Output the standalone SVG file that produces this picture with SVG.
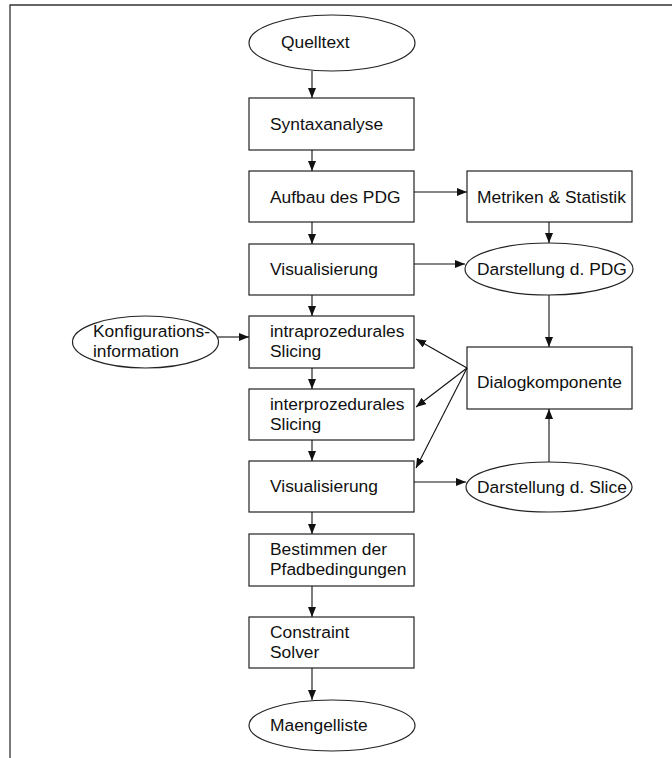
<svg xmlns="http://www.w3.org/2000/svg" width="672" height="758" viewBox="0 0 672 758">
<defs>
<marker id="ah" markerUnits="userSpaceOnUse" markerWidth="11" markerHeight="8" refX="10" refY="4" orient="auto">
<path d="M0,0 L10,4 L0,8 Z" fill="#111"/>
</marker>
<style>
.n{fill:#fff;stroke:#222;stroke-width:1.2}
.t{font-family:"Liberation Sans",Arial,sans-serif;font-size:17.4px;fill:#111}
.c line{stroke:#111;stroke-width:1.1;marker-end:url(#ah)}
.f{stroke:#333;stroke-width:1.3;fill:none}
</style>
</defs>
<path class="f" d="M672,5 H10 V758"/>
<g id="quelltext"><ellipse class="n" cx="332" cy="43" rx="83" ry="28"/><text class="t" x="281" y="48">Quelltext</text></g>
<g id="syntaxanalyse"><rect class="n" x="249" y="98" width="165" height="52"/><text class="t" x="270" y="130">Syntaxanalyse</text></g>
<g id="aufbau"><rect class="n" x="249" y="171" width="165" height="51"/><text class="t" x="270" y="203">Aufbau des PDG</text></g>
<g id="metriken"><rect class="n" x="467" y="171" width="165" height="51"/><text class="t" x="477" y="203">Metriken &amp; Statistik</text></g>
<g id="visualisierung1"><rect class="n" x="249" y="244" width="165" height="51"/><text class="t" x="270" y="275">Visualisierung</text></g>
<g id="darstellung-pdg"><ellipse class="n" cx="549" cy="269" rx="84" ry="26"/><text class="t" x="477" y="275">Darstellung d. PDG</text></g>
<g id="intra"><rect class="n" x="249" y="316" width="165" height="52"/><text class="t" x="270" y="337">intraprozedurales</text><text class="t" x="270" y="357">Slicing</text></g>
<g id="konfig"><ellipse class="n" cx="145.5" cy="342" rx="73" ry="26"/><text class="t" x="93" y="337">Konfigurations-</text><text class="t" x="93" y="357">information</text></g>
<g id="inter"><rect class="n" x="249" y="389" width="165" height="51"/><text class="t" x="270" y="410">interprozedurales</text><text class="t" x="270" y="430">Slicing</text></g>
<g id="dialog"><rect class="n" x="467" y="347" width="165" height="62"/><text class="t" x="477" y="388">Dialogkomponente</text></g>
<g id="visualisierung2"><rect class="n" x="249" y="461" width="165" height="51"/><text class="t" x="270" y="492">Visualisierung</text></g>
<g id="darstellung-slice"><ellipse class="n" cx="549" cy="487" rx="83" ry="25"/><text class="t" x="477" y="493">Darstellung d. Slice</text></g>
<g id="bestimmen"><rect class="n" x="249" y="534" width="165" height="52"/><text class="t" x="270" y="555">Bestimmen der</text><text class="t" x="270" y="575">Pfadbedingungen</text></g>
<g id="constraint"><rect class="n" x="249" y="617" width="165" height="51"/><text class="t" x="270" y="638">Constraint</text><text class="t" x="270" y="658">Solver</text></g>
<g id="maengelliste"><ellipse class="n" cx="332" cy="725.5" rx="83" ry="25.5"/><text class="t" x="270" y="731">Maengelliste</text></g>
<g id="connectors" class="c">
<line x1="312" y1="71" x2="312" y2="98"/>
<line x1="312" y1="150" x2="312" y2="171"/>
<line x1="414" y1="192" x2="467" y2="192"/>
<line x1="312" y1="222" x2="312" y2="244"/>
<line x1="549" y1="222" x2="549" y2="243"/>
<line x1="414" y1="264" x2="465" y2="264"/>
<line x1="312" y1="295" x2="312" y2="316"/>
<line x1="549" y1="295" x2="549" y2="347"/>
<line x1="218" y1="337" x2="249" y2="337"/>
<line x1="312" y1="368" x2="312" y2="389"/>
<line x1="467" y1="368" x2="416" y2="339"/>
<line x1="467" y1="368" x2="416" y2="407"/>
<line x1="467" y1="368" x2="416" y2="468"/>
<line x1="312" y1="440" x2="312" y2="461"/>
<line x1="414" y1="482" x2="466" y2="482"/>
<line x1="549" y1="462" x2="549" y2="409"/>
<line x1="312" y1="512" x2="312" y2="534"/>
<line x1="312" y1="586" x2="312" y2="617"/>
<line x1="312" y1="668" x2="312" y2="700"/>
</g>
</svg>
